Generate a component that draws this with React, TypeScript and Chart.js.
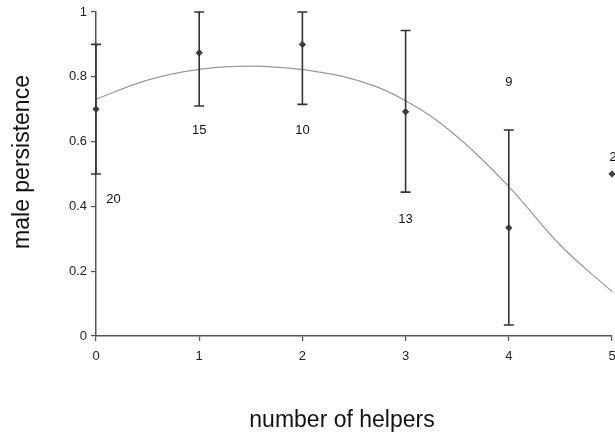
import React, { useEffect, useRef } from "react";
import { Chart, registerables } from "chart.js";

Chart.register(...registerables);

const helpers = [0, 1, 2, 3, 4, 5];
const persistence = [0.7, 0.874, 0.9, 0.692, 0.334, 0.5];
const errLow = [0.5, 0.71, 0.715, 0.444, 0.034, null];
const errHigh = [0.9, 1.0, 1.0, 0.943, 0.636, null];
const sampleSizes = ["20", "15", "10", "13", "9", "2"];
const labelX = [0.17, 1.0, 2.0, 3.0, 4.0, 5.01];
const labelY = [0.42, 0.633, 0.633, 0.361, 0.784, 0.552];

const fitX = [0, 0.5, 1, 1.5, 2, 2.5, 3, 3.5, 4, 4.5, 5];
const fitY = [0.731, 0.79, 0.823, 0.833, 0.822, 0.792, 0.726, 0.615, 0.461, 0.28, 0.137];

const yTicks = [0, 0.2, 0.4, 0.6, 0.8, 1];
const xTitle = "number of helpers";
const yTitle = "male persistence";

const FONT = "'Liberation Sans', Arial, sans-serif";

const errorBarPlugin = {
  id: "errorBars",
  afterDatasetsDraw(chart: any) {
    const { ctx, scales } = chart;
    const xs = scales.x;
    const ys = scales.y;
    ctx.save();
    ctx.strokeStyle = "#333";
    ctx.lineWidth = 1.6;
    for (let i = 0; i < helpers.length; i++) {
      const lo = errLow[i];
      const hi = errHigh[i];
      if (lo == null || hi == null) continue;
      const px = xs.getPixelForValue(helpers[i]);
      const pLo = ys.getPixelForValue(lo);
      const pHi = ys.getPixelForValue(hi);
      ctx.beginPath();
      ctx.moveTo(px, pLo);
      ctx.lineTo(px, pHi);
      ctx.moveTo(px - 5, pLo);
      ctx.lineTo(px + 5, pLo);
      ctx.moveTo(px - 5, pHi);
      ctx.lineTo(px + 5, pHi);
      ctx.stroke();
    }
    ctx.fillStyle = "#111";
    ctx.font = "13px " + FONT;
    ctx.textAlign = "center";
    ctx.textBaseline = "middle";
    for (let i = 0; i < sampleSizes.length; i++) {
      ctx.fillText(sampleSizes[i], xs.getPixelForValue(labelX[i]), ys.getPixelForValue(labelY[i]));
    }
    // axis titles
    ctx.font = "23px " + FONT;
    ctx.fillStyle = "#111";
    ctx.fillText(xTitle, 342, 421);
    ctx.translate(23, 162);
    ctx.rotate(-Math.PI / 2);
    ctx.fillText(yTitle, 0, 0);
    ctx.restore();
  },
};

export default function App() {
  const ref = useRef<HTMLCanvasElement>(null);
  useEffect(() => {
    if (!ref.current) return;
    const chart = new Chart(ref.current, {
      type: "scatter",
      data: {
        datasets: [
          {
            type: "line",
            data: fitX.map((x, i) => ({ x, y: fitY[i] })),
            borderColor: "#9a9a9a",
            borderWidth: 1.3,
            pointRadius: 0,
            tension: 0.4,
            fill: false,
            clip: false,
          } as any,
          {
            data: helpers.map((x, i) => ({ x, y: persistence[i] })),
            pointStyle: "rectRot",
            pointRadius: 3.2,
            backgroundColor: "#444",
            borderColor: "#444",
            borderWidth: 1,
            clip: false,
          } as any,
        ],
      },
      options: {
        responsive: false,
        animation: false,
        layout: { autoPadding: false, padding: { top: 12, right: 3, left: 0, bottom: 0 } },
        plugins: { legend: { display: false }, tooltip: { enabled: false } },
        scales: {
          x: {
            type: "linear",
            min: 0,
            max: 5,
            grid: { display: true, drawOnChartArea: false, drawTicks: true, tickLength: 5, color: "#555", lineWidth: 1.2 },
            border: { display: true, color: "#555", width: 1.5 },
            ticks: {
              stepSize: 1,
              color: "#222",
              font: { size: 13, family: FONT },
              padding: 8,
              maxRotation: 0,
            },
            afterFit(scale: any) {
              scale.height = 435 - 336;
              scale.paddingRight = 0;
              scale.paddingLeft = 0;
            },
          },
          y: {
            type: "linear",
            min: 0,
            max: 1,
            afterBuildTicks(scale: any) {
              scale.ticks = yTicks.map((v) => ({ value: v }));
            },
            grid: { display: true, drawOnChartArea: false, drawTicks: true, tickLength: 5, color: "#555", lineWidth: 1.2 },
            border: { display: true, color: "#555", width: 1.5 },
            ticks: {
              color: "#222",
              font: { size: 13, family: FONT },
              padding: 4,
              callback: (v: any) => String(v),
            },
            afterFit(scale: any) {
              scale.width = 96;
              scale.paddingTop = 0;
              scale.paddingBottom = 0;
            },
          },
        },
      },
      plugins: [errorBarPlugin],
    });
    return () => chart.destroy();
  }, []);
  return (
    <div style={{ position: "absolute", left: 0, top: 0, width: 615, height: 435, background: "#fff" }}>
      <canvas ref={ref} width={615} height={435} style={{ display: "block" }} />
    </div>
  );
}
